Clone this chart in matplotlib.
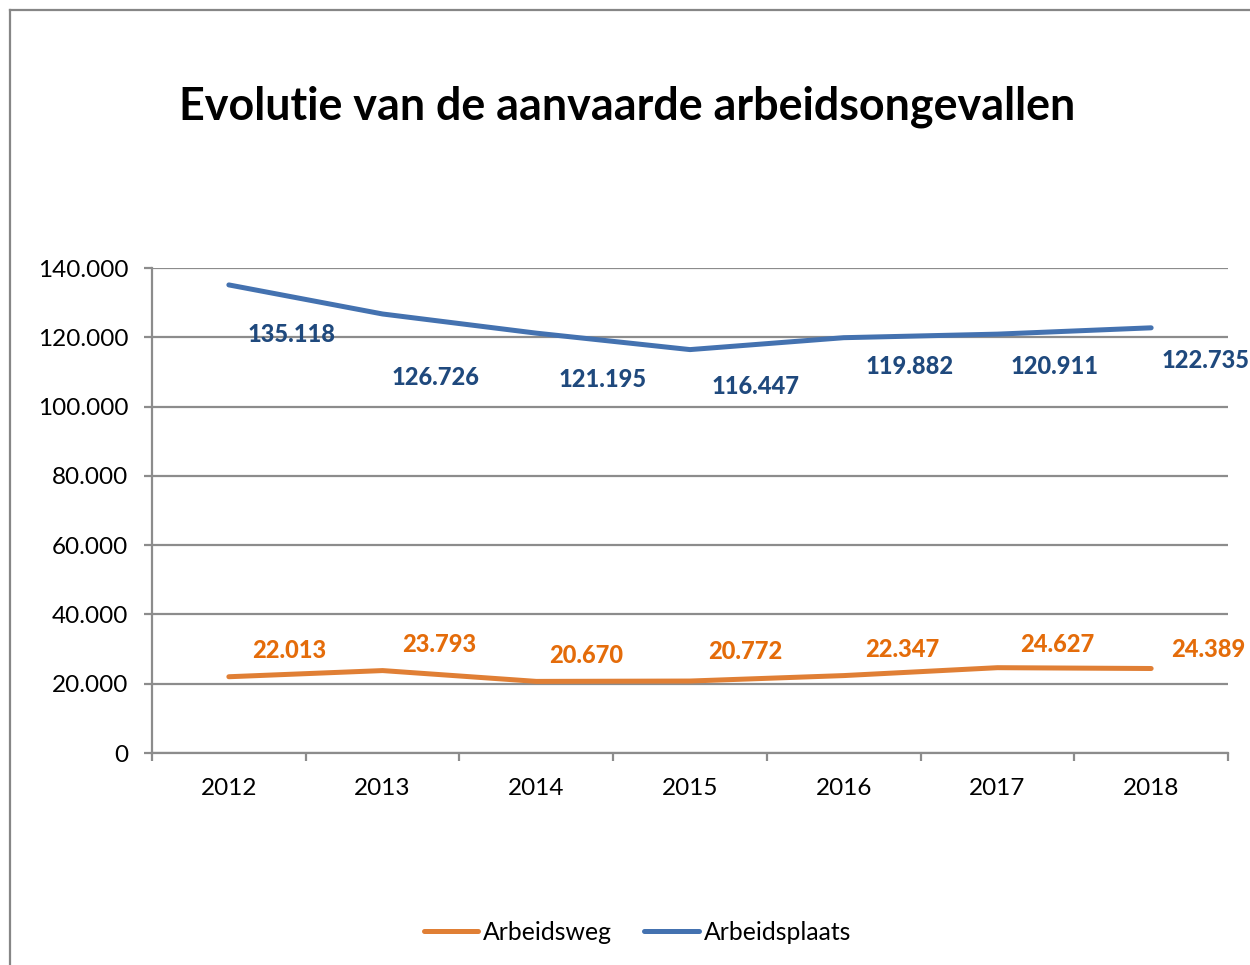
import matplotlib
matplotlib.use("Agg")
import matplotlib.pyplot as plt
from matplotlib.lines import Line2D
from matplotlib.ticker import FuncFormatter, MultipleLocator

years = ["2012", "2013", "2014", "2015", "2016", "2017", "2018"]
arbeidsplaats = [135118, 126726, 121195, 116447, 119882, 120911, 122735]
arbeidsweg = [22013, 23793, 20670, 20772, 22347, 24627, 24389]

# label offsets in pixels (dx, dy) relative to each point, as in the original chart
blue_off = [(63, -50), (53, -64), (66, -46), (66, -37), (66, -29), (57, -32), (54, -33)]
orange_off = [(60, 26), (57, 26), (50, 26), (55, 30), (59, 26), (60, 23), (57, 19)]

BLUE = "#4472B0"
BLUE_TXT = "#1F497D"
ORANGE = "#E07F35"
ORANGE_TXT = "#E46C0A"
GRID = "#8C8C8C"

plt.rcParams["font.family"] = ["Lato", "DejaVu Sans"]

fig = plt.figure(figsize=(12.5, 9.65), dpi=100)
ax = fig.add_axes([152 / 1250, 1 - 753 / 965, (1228 - 152) / 1250, (753 - 268) / 965])

x = list(range(len(years)))
ax.plot(x, arbeidsweg, color=ORANGE, lw=3.6, solid_capstyle="round", label="Arbeidsweg")
ax.plot(x, arbeidsplaats, color=BLUE, lw=3.6, solid_capstyle="round", label="Arbeidsplaats")

def fmt(v):
    return f"{v:,.0f}".replace(",", ".")

for i, v in enumerate(arbeidsplaats):
    ax.annotate(fmt(v), (i, v), xytext=blue_off[i], textcoords="offset pixels",
                ha="center", va="center", color=BLUE_TXT, fontsize=17,
                fontweight="black")
for i, v in enumerate(arbeidsweg):
    ax.annotate(fmt(v), (i, v), xytext=orange_off[i], textcoords="offset pixels",
                ha="center", va="center", color=ORANGE_TXT, fontsize=17,
                fontweight="black")

ax.set_xlim(-0.5, len(years) - 0.5)
ax.set_ylim(0, 140000)
ax.yaxis.set_major_locator(MultipleLocator(20000))
ax.yaxis.set_major_formatter(FuncFormatter(lambda v, p: fmt(v)))
ax.grid(axis="y", color=GRID, lw=1.6)
ax.set_axisbelow(True)

ax.set_xticks([i - 0.5 for i in range(len(years) + 1)])
ax.set_xticklabels([])
ax.set_xticks(x, minor=True)
ax.set_xticklabels(years, minor=True)
ax.tick_params(axis="x", which="major", length=6, width=1.6, color=GRID)
ax.tick_params(axis="x", which="minor", length=0, labelsize=17.5, pad=18)
ax.tick_params(axis="y", length=6, width=1.6, color=GRID, labelsize=17.5, pad=11)

for s in ["top", "right"]:
    ax.spines[s].set_visible(False)
for s in ["left", "bottom"]:
    ax.spines[s].set_color(GRID)
    ax.spines[s].set_linewidth(1.6)

fig.text(627 / 1250, 1 - 107 / 965, "Evolutie van de aanvaarde arbeidsongevallen",
         ha="center", va="center", fontsize=32.3, fontweight="bold")

fig.legend(loc="center", bbox_to_anchor=(0.51, 1 - 932 / 965), ncol=2, frameon=False,
           fontsize=17.8, handlelength=2.2, handletextpad=0.2, columnspacing=1.3)

# chart border (only left and top edges visible)
fig.add_artist(Line2D([10 / 1250, 10 / 1250], [0, 1 - 10 / 965], color="#868686", lw=1.6))
fig.add_artist(Line2D([10 / 1250, 1], [1 - 10 / 965, 1 - 10 / 965], color="#868686", lw=1.6))

fig.savefig("out.png", dpi=100)
